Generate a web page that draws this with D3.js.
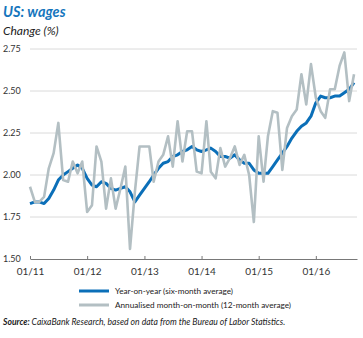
<!DOCTYPE html>
<html>
<head>
<meta charset="utf-8">
<script src="https://cdn.jsdelivr.net/npm/d3@7"></script>
<style>
  body { margin: 0; background: #fff; }
  svg { display: block; font-family: Lato, "Open Sans", sans-serif; }
</style>
</head>
<body>
<div id="chart"></div>
<script>
// Monthly series, Jan 2011 onwards
const startMonth = new Date(2011, 0, 1);
const yoy = [1.83, 1.84, 1.84, 1.83, 1.86, 1.91, 1.97, 2.00, 2.02, 2.04, 2.06, 2.04,
             1.98, 1.94, 1.93, 1.96, 1.95, 1.92, 1.91, 1.92, 1.93, 1.90, 1.84, 1.88,
             1.92, 1.96, 2.00, 2.04, 2.07, 2.08, 2.11, 2.12, 2.14, 2.15, 2.17, 2.15,
             2.14, 2.15, 2.16, 2.14, 2.11, 2.11, 2.10, 2.12, 2.09, 2.07, 2.07, 2.03,
             2.01, 2.01, 2.01, 2.05, 2.09, 2.13, 2.17, 2.22, 2.26, 2.29, 2.31, 2.35,
             2.43, 2.47, 2.46, 2.46, 2.47, 2.47, 2.49, 2.51, 2.55];
const mom = [1.93, 1.84, 1.84, 1.87, 2.04, 2.13, 2.31, 1.97, 1.96, 2.08, 2.01, 2.08,
             1.78, 1.82, 2.17, 2.08, 1.80, 1.98, 1.80, 1.92, 2.05, 1.56, 1.90, 2.17,
             2.17, 2.17, 1.96, 2.08, 2.12, 2.23, 2.05, 2.32, 2.08, 2.26, 2.26, 2.02,
             2.01, 2.32, 2.02, 1.98, 2.16, 2.05, 2.10, 2.17, 2.06, 2.12, 2.00, 1.72,
             2.23, 1.96, 2.23, 2.38, 2.37, 2.03, 2.28, 2.35, 2.39, 2.60, 2.42, 2.66,
             2.46, 2.38, 2.34, 2.51, 2.51, 2.65, 2.73, 2.44, 2.60];
const yTicks = [1.50, 1.75, 2.00, 2.25, 2.50, 2.75];
const xTickYears = [2011, 2012, 2013, 2014, 2015, 2016];
const seriesNames = ['Year-on-year (six-month average)', 'Annualised month-on-month (12-month average)'];
const colors = ['#0b6fb8', '#b3bfc3'];

const width = 363, height = 338;
const svg = d3.select('#chart').append('svg')
    .attr('width', width)
    .attr('height', height);

// Titles
svg.append('text')
    .attr('x', 3).attr('y', 17)
    .attr('fill', '#1576bd')
    .style('font-size', '14.5px')
    .style('font-weight', 'bold')
    .style('font-style', 'italic')
    .text('US: wages');

svg.append('text')
    .attr('x', 3).attr('y', 35)
    .attr('fill', '#222')
    .style('font-size', '12px')
    .style('font-style', 'italic')
    .text('Change (%)');

// Scales
const x = d3.scaleTime()
    .domain([startMonth, new Date(2016, 8, 20)])
    .range([30, 357]);

const y = d3.scaleLinear()
    .domain([1.5, 2.75])
    .range([259, 49]);

const dates = yoy.map((d, i) => d3.timeMonth.offset(startMonth, i));

// Gridlines
svg.append('g')
    .selectAll('line')
    .data(yTicks.filter(t => t > 1.5))
    .enter().append('line')
    .attr('x1', 30).attr('x2', 357)
    .attr('y1', d => y(d)).attr('y2', d => y(d))
    .attr('stroke', '#d0d0d0')
    .attr('stroke-width', 0.8);

// Y labels
svg.append('g')
    .selectAll('text')
    .data(yTicks)
    .enter().append('text')
    .attr('x', 3)
    .attr('y', d => y(d) + 3)
    .attr('fill', '#333')
    .style('font-size', '9px')
    .text(d => d.toFixed(2));

// X axis
const xAxis = svg.append('g')
    .attr('transform', `translate(0,${y(1.5)})`)
    .call(d3.axisBottom(x)
        .tickValues(xTickYears.map(yr => new Date(yr, 0, 1)))
        .tickSize(-3)
        .tickSizeOuter(0)
        .tickFormat(d3.timeFormat('%m/%y')));
xAxis.select('.domain').attr('stroke', '#555').attr('stroke-width', 0.8);
xAxis.selectAll('.tick line').attr('stroke', '#555').attr('stroke-width', 0.8);
xAxis.selectAll('.tick text')
    .attr('y', 9)
    .attr('fill', '#333')
    .style('font-size', '10px')
    .style('font-family', 'Lato, sans-serif');

// Lines
const line = d3.line()
    .x((d, i) => x(dates[i]))
    .y(d => y(d))
    .curve(d3.curveLinear);

svg.append('path')
    .datum(yoy)
    .attr('d', line)
    .attr('fill', 'none')
    .attr('stroke', colors[0])
    .attr('stroke-width', 3)
    .attr('stroke-linejoin', 'round');

svg.append('path')
    .datum(mom)
    .attr('d', line)
    .attr('fill', 'none')
    .attr('stroke', colors[1])
    .attr('stroke-width', 2.6)
    .attr('stroke-linejoin', 'round');

// Legend
const legend = svg.append('g')
    .selectAll('g')
    .data(seriesNames)
    .enter().append('g')
    .attr('transform', (d, i) => `translate(79,${291 + i * 14})`);

legend.append('line')
    .attr('x1', 0).attr('x2', 30)
    .attr('stroke', (d, i) => colors[i])
    .attr('stroke-width', 3);

legend.append('text')
    .attr('x', 36).attr('y', 3)
    .attr('fill', '#222')
    .style('font-size', '8.2px')
    .text(d => d);

// Source
const source = svg.append('text')
    .attr('x', 3).attr('y', 325)
    .attr('fill', '#222')
    .style('font-size', '8.6px')
    .style('font-style', 'italic');
source.append('tspan').style('font-weight', 'bold').text('Source: ');
source.append('tspan').text('CaixaBank Research, based on data from the Bureau of Labor Statistics.');
</script>
</body>
</html>
